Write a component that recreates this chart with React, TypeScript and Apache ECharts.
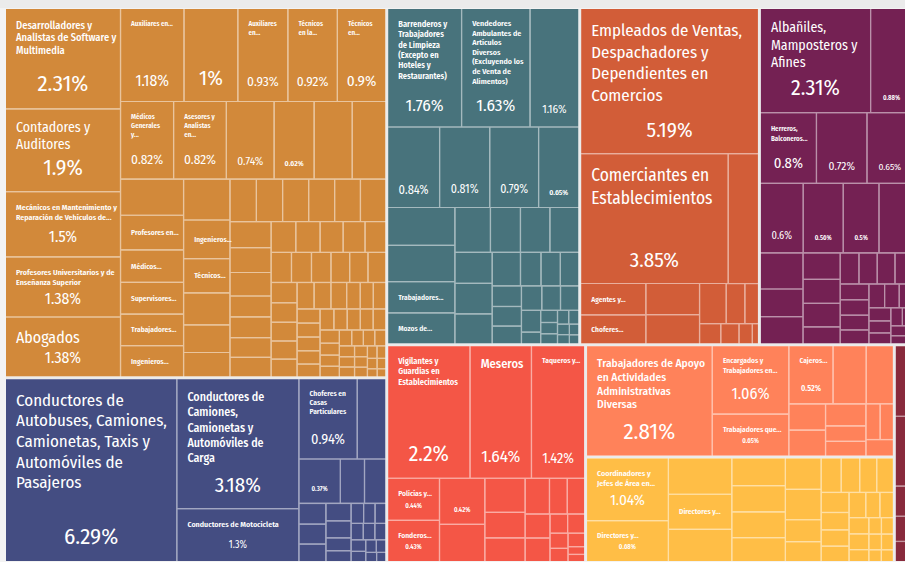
import React, { useEffect, useRef } from "react";
import * as echarts from "echarts";

const FONT = "'Fira Sans Condensed', 'Roboto Condensed', 'DejaVu Sans Condensed', sans-serif";

// ---------- DATA (share of employed population, %) ----------
const groupNames = [
  "Profesionistas y Técnicos",
  "Operadores de Maquinaria Industrial, Ensambladores, Choferes y Conductores de Transporte",
  "Trabajadores en Actividades Elementales y de Apoyo",
  "Comerciantes, Empleados en Ventas y Agentes de Ventas",
  "Trabajadores Artesanales, en la Construcción y Otros Oficios",
  "Trabajadores en Servicios Personales y de Vigilancia",
  "Trabajadores Auxiliares en Actividades Administrativas",
  "Funcionarios, Directores y Jefes",
  "Trabajadores en Actividades Agrícolas, Ganaderas, Forestales, Caza y Pesca",
];

const groupColors = ["#D2893A", "#444D82", "#48737C", "#D25D38", "#742153", "#F45646", "#FF825A", "#FFBE46", "#882A3C"];

// null = occupation whose name is not printed in the chart
const profNames: (string | null)[] = [
  "Desarrolladores y\nAnalistas de Software y\nMultimedia",
  "Contadores y\nAuditores",
  "Mecánicos en Mantenimiento y\nReparación de Vehículos de...",
  "Profesores Universitarios y de\nEnseñanza Superior",
  "Abogados",
  "Auxiliares en...",
  null,
  "Auxiliares\nen...",
  "Técnicos\nen la...",
  "Técnicos\nen...",
  "Médicos\nGenerales\ny...",
  "Asesores y\nAnalistas\nen...",
  null, null, null, null, null,
  "Profesores en...",
  "Médicos...",
  "Supervisores...",
  "Trabajadores...",
  "Ingenieros...",
  null,
  "Ingenieros...",
  "Técnicos...",
];
const profValues = [
  2.31, 1.9, 1.5, 1.383, 1.377, 1.18, 1.0, 0.93, 0.92, 0.9, 0.822, 0.818, 0.74, 0.62, 0.59, 0.52,
  0.455, 0.435, 0.41, 0.4, 0.397, 0.393,
  0.379, 0.358, 0.317, 0.297, 0.256, 0.226, 0.224,
  0.222, 0.221, 0.22, 0.219, 0.215, 0.214,
  0.205, 0.193, 0.172, 0.17, 0.163, 0.16, 0.152,
  0.15, 0.142, 0.135, 0.128, 0.122, 0.12,
  0.117, 0.112, 0.11, 0.107, 0.105, 0.101,
  0.097, 0.094, 0.092, 0.09, 0.089,
  0.083, 0.072, 0.069, 0.066, 0.065, 0.064,
  0.063, 0.061, 0.059, 0.058, 0.056,
  0.055, 0.054, 0.053, 0.051, 0.046,
  0.043, 0.041, 0.039, 0.037,
  0.036, 0.035, 0.033, 0.031,
  0.03, 0.028, 0.027, 0.025, 0.024, 0.022, 0.02, 0.018, 0.016, 0.014,
];

const condNames: (string | null)[] = [
  "Conductores de\nAutobuses, Camiones,\nCamionetas, Taxis y\nAutomóviles de\nPasajeros",
  "Conductores de\nCamiones,\nCamionetas y\nAutomóviles de\nCarga",
  "Conductores de Motocicleta",
  "Choferes en\nCasas\nParticulares",
];
const condValues = [
  6.29, 3.18, 1.3, 0.94, 0.46, 0.37, 0.215, 0.19, 0.112, 0.108, 0.095, 0.088, 0.086, 0.065, 0.055,
  0.05, 0.046, 0.043, 0.04, 0.038, 0.036, 0.034, 0.03, 0.027, 0.024, 0.02, 0.017,
];

const elemNames: (string | null)[] = [
  "Barrenderos y\nTrabajadores\nde Limpieza\n(Excepto en\nHoteles y\nRestaurantes)",
  "Vendedores\nAmbulantes de\nArtículos\nDiversos\n(Excluyendo los\nde Venta de\nAlimentos)",
  null, null, null, null, null, null, null,
  "Trabajadores...",
  "Mozos de...",
];
const elemValues = [
  1.76, 1.63, 1.16, 0.84, 0.81, 0.79, 0.65, 0.51, 0.49, 0.422, 0.418,
  0.32, 0.27, 0.265, 0.26, 0.232, 0.229, 0.224, 0.19, 0.138, 0.13, 0.124, 0.121, 0.115, 0.104,
  0.1, 0.092, 0.09, 0.084, 0.045, 0.041, 0.038, 0.034, 0.031, 0.028, 0.025, 0.022, 0.02, 0.017,
];

const ventasNames: (string | null)[] = [
  "Empleados de Ventas,\nDespachadores y\nDependientes en\nComercios",
  "Comerciantes en\nEstablecimientos",
  null,
  "Agentes y...",
  "Choferes...",
];
const ventasValues = [5.19, 3.85, 0.79, 0.41, 0.38, 0.335, 0.315, 0.215, 0.15, 0.11, 0.086, 0.074, 0.054, 0.025];

const artesNames: (string | null)[] = ["Albañiles,\nMamposteros y\nAfines", null, "Herreros,\nBalconeros..."];
const artesValues = [
  2.31, 0.88, 0.8, 0.72, 0.65, 0.6, 0.56, 0.5, 0.47, 0.31, 0.237, 0.234, 0.198, 0.18, 0.175, 0.127,
  0.117, 0.114, 0.111, 0.11, 0.091, 0.089, 0.085, 0.08, 0.075, 0.07, 0.064, 0.058, 0.053, 0.048,
  0.042, 0.037, 0.032, 0.026, 0.021,
];

const servNames: (string | null)[] = [
  "Vigilantes y\nGuardias en\nEstablecimientos",
  "Meseros",
  "Taqueros y...",
  "Policías y...",
  "Fonderos...",
];
const servValues = [
  2.2, 1.64, 1.42, 0.44, 0.43, 0.42, 0.34, 0.277, 0.207, 0.192, 0.175, 0.128, 0.125, 0.12, 0.118,
  0.068, 0.066, 0.055, 0.048, 0.045, 0.026, 0.024,
];

const auxNames: (string | null)[] = [
  "Trabajadores de Apoyo\nen Actividades\nAdministrativas\nDiversas",
  "Encargados y\nTrabajadores en...",
  "Trabajadores que...",
  "Cajeros...",
];
const auxValues = [2.81, 1.06, 0.65, 0.52, 0.39, 0.32, 0.195, 0.193, 0.181, 0.126, 0.12, 0.103, 0.096, 0.092];

const jefesNames: (string | null)[] = ["Coordinadores y\nJefes de Área en...", "Directores y...", null, "Directores y..."];
const jefesValues = [
  1.04, 0.68, 0.466, 0.452, 0.412, 0.3, 0.285, 0.28, 0.26, 0.228, 0.22, 0.159, 0.144, 0.14, 0.129,
  0.119, 0.117, 0.113, 0.098, 0.092, 0.087, 0.085, 0.072, 0.069, 0.065, 0.063, 0.048, 0.042, 0.04,
  0.04, 0.038, 0.03, 0.029,
];

const agroNames: (string | null)[] = [];
const agroValues = [0.27, 0.267, 0.115, 0.096, 0.077];

const leafNames = [profNames, condNames, elemNames, ventasNames, artesNames, servNames, auxNames, jefesNames, agroNames];
const leafValues = [profValues, condValues, elemValues, ventasValues, artesValues, servValues, auxValues, jefesValues, agroValues];

// ---------- LABEL STYLES (font sizes per printed label) ----------
type Spec = { ns?: number; nlh?: number; vs?: number; center?: boolean };
const labelSpecs: Record<string, Spec> = {
  "0-0": { ns: 10.5, nlh: 12.5, vs: 24 },
  "0-1": { ns: 14, nlh: 15.7, vs: 23 },
  "0-2": { ns: 8, nlh: 10, vs: 16.5 },
  "0-3": { ns: 8, nlh: 10, vs: 16.5 },
  "0-4": { ns: 16, nlh: 19, vs: 16.5 },
  "0-5": { ns: 7, nlh: 9, vs: 16.5 },
  "0-6": { vs: 22 },
  "0-7": { ns: 7, nlh: 9, vs: 14 },
  "0-8": { ns: 7, nlh: 9, vs: 14 },
  "0-9": { ns: 7, nlh: 9, vs: 16 },
  "0-10": { ns: 7, nlh: 9, vs: 14 },
  "0-11": { ns: 7, nlh: 9, vs: 14 },
  "0-12": { vs: 12 },
  "0-13": { vs: 8 },
  "0-17": { ns: 7.5, center: true },
  "0-18": { ns: 7.5, center: true },
  "0-19": { ns: 7.5, center: true },
  "0-20": { ns: 7.5, center: true },
  "0-21": { ns: 7.5, center: true },
  "0-23": { ns: 7.5, center: true },
  "0-24": { ns: 7.5, center: true },
  "1-0": { ns: 17, nlh: 20.7, vs: 24 },
  "1-1": { ns: 12, nlh: 15.3, vs: 22 },
  "1-2": { ns: 8, nlh: 10, vs: 10.5 },
  "1-3": { ns: 7.5, nlh: 9, vs: 15 },
  "1-5": { vs: 7 },
  "2-0": { ns: 8.5, nlh: 10.3, vs: 18 },
  "2-1": { ns: 8, nlh: 9.4, vs: 18 },
  "2-2": { vs: 12 },
  "2-3": { vs: 13 },
  "2-4": { vs: 12.5 },
  "2-5": { vs: 12.5 },
  "2-6": { vs: 8 },
  "2-9": { ns: 7.5, center: true },
  "2-10": { ns: 7.5, center: true },
  "3-0": { ns: 17, nlh: 21.7, vs: 22 },
  "3-1": { ns: 17.5, nlh: 22.7, vs: 22 },
  "3-3": { ns: 7.5, center: true },
  "3-4": { ns: 7.5, center: true },
  "4-0": { ns: 14, nlh: 17.5, vs: 23 },
  "4-1": { vs: 7 },
  "4-2": { ns: 7, nlh: 10.5, vs: 15.5 },
  "4-3": { vs: 12 },
  "4-4": { vs: 10 },
  "4-5": { vs: 11 },
  "4-6": { vs: 7 },
  "4-7": { vs: 7 },
  "5-0": { ns: 8.5, nlh: 10, vs: 23 },
  "5-1": { ns: 12.5, nlh: 15, vs: 18 },
  "5-2": { ns: 7.5, nlh: 9, vs: 15 },
  "5-3": { ns: 7.5, nlh: 9, vs: 7 },
  "5-4": { ns: 7.5, nlh: 9, vs: 7 },
  "5-5": { vs: 7 },
  "6-0": { ns: 11.5, nlh: 13.5, vs: 24 },
  "6-1": { ns: 7.5, nlh: 9.3, vs: 17 },
  "6-2": { ns: 7.5, nlh: 9, vs: 7 },
  "6-3": { ns: 7.5, nlh: 9, vs: 8.5 },
  "7-0": { ns: 8, nlh: 10.3, vs: 16 },
  "7-1": { ns: 7.5, nlh: 9, vs: 7 },
  "7-3": { ns: 7.5, center: true },
};

const fmt = (v: number) => `${parseFloat(v.toFixed(2))}%`;

function tint(hex: string, t: number) {
  const n = parseInt(hex.slice(1), 16);
  const r = (n >> 16) & 255, g = (n >> 8) & 255, b = n & 255;
  const m = (c: number) => Math.round(c + (255 - c) * t);
  return `rgb(${m(r)},${m(g)},${m(b)})`;
}

// small width correction so the text takes about the same room as in the original
function fontScales() {
  try {
    const ctx = document.createElement("canvas").getContext("2d");
    if (!ctx) return { n: 1, v: 1 };
    ctx.font = `100px ${FONT}`;
    const wn = ctx.measureText("Empleados de Ventas,").width;
    const wv = ctx.measureText("2.31%").width;
    const clamp = (x: number, a: number, b: number) => Math.min(b, Math.max(a, x));
    return { n: clamp(888 / wn, 0.85, 1.1), v: clamp(212 / wv, 0.85, 1.1) };
  } catch (e) {
    return { n: 1, v: 1 };
  }
}

const weightFor = (fs: number) => (fs < 9 ? 600 : fs < 14 ? 500 : 400);

type Size = { w: number; h: number } | null;

function buildLabel(name: string, value: number, spec: Spec | undefined, size: Size, sc: { n: number; v: number }) {
  if (!spec || !size) return { show: false };
  const h = size.h;
  const ns = spec.ns ?? 0;
  const lines = ns ? name.split("\n") : [];
  const nfs = (ns || 10) * sc.n;
  const nlh = Math.max(spec.nlh ?? ns * 1.2, nfs * 1.2);
  const vs = spec.vs ?? 0;
  const vfs = (vs || 10) * sc.v;
  const vlh = vs * 1.2;
  const top = spec.center ? Math.max(1, (h - lines.length * nlh) / 2) : 10;
  const out: string[] = ["{t| }"];
  lines.forEach((l) => out.push(`{n|${l}}`));
  let mid = 1;
  if (vs) {
    mid = Math.max(1, h - 20 - lines.length * nlh - vlh);
    out.push("{m| }");
    out.push(`{v|${fmt(value)}}`);
  }
  const text = out.join("\n");
  return {
    show: true,
    position: "insideTopLeft",
    distance: 0,
    padding: [0, 10, 0, 10],
    overflow: "none",
    formatter: () => text,
    rich: {
      t: { fontSize: 1, lineHeight: top },
      m: { fontSize: 1, lineHeight: mid },
      n: { fontFamily: FONT, fontSize: nfs, lineHeight: nlh || 12, color: "#ffffff", fontWeight: weightFor(ns || 10) },
      v: { fontFamily: FONT, fontSize: vfs, lineHeight: vlh || 12, color: "#ffffff", align: "center", fontWeight: vs < 9 ? 600 : 400 },
    },
  };
}

function buildOption(sizes: Size[][] | null, sc: { n: number; v: number }) {
  const data = groupNames.map((gName, g) => {
    const color = groupColors[g];
    return {
      name: gName,
      itemStyle: { color, borderColor: tint(color, 0.5) },
      children: leafValues[g].map((v, i) => {
        const name = leafNames[g][i] ?? "Otras ocupaciones";
        return {
          name,
          value: v,
          itemStyle: { color },
          label: buildLabel(name, v, labelSpecs[`${g}-${i}`], sizes && sizes[g] ? sizes[g][i] : null, sc),
        };
      }),
    };
  });
  return {
    animation: false,
    tooltip: { show: false },
    series: [
      {
        type: "treemap",
        left: 6,
        top: 9,
        width: 906,
        height: 552,
        roam: false,
        nodeClick: false,
        breadcrumb: { show: false },
        visibleMin: 0,
        sort: "desc",
        squareRatio: 0.5 * (1 + Math.sqrt(5)),
        label: { show: false },
        upperLabel: { show: false },
        emphasis: { disabled: true },
        itemStyle: { borderWidth: 0, gapWidth: 0 },
        levels: [
          { itemStyle: { borderWidth: 0, gapWidth: 3, borderColor: "#ebebeb" } },
          { itemStyle: { borderWidth: 0, gapWidth: 1.2 } },
          { itemStyle: { borderWidth: 0, gapWidth: 0 } },
        ],
        data,
      },
    ],
  };
}

function readSizes(chart: any): Size[][] | null {
  try {
    const model = chart.getModel ? chart.getModel() : chart._model;
    const tree = model.getSeriesByIndex(0).getData().tree;
    return tree.root.children.map((gNode: any) =>
      gNode.children.map((n: any) => {
        const l = n.getLayout();
        return l ? { w: l.width, h: l.height } : null;
      })
    );
  } catch (e) {
    return null;
  }
}

export default function App() {
  const ref = useRef<HTMLDivElement>(null);
  useEffect(() => {
    const el = ref.current;
    if (!el) return;
    const sc = fontScales();
    const chart = echarts.init(el, undefined, { renderer: "svg" });
    chart.setOption(buildOption(null, sc) as any);
    const sizes = readSizes(chart);
    if (sizes) chart.setOption(buildOption(sizes, sc) as any, true);
    return () => chart.dispose();
  }, []);
  return (
    <div style={{ position: "fixed", left: 0, top: 0, width: 905, height: 562, overflow: "hidden", background: "#f3f3f3" }}>
      <div style={{ position: "absolute", left: 0, top: 0, width: 905, height: 8, background: "#ebebeb" }} />
      <div ref={ref} style={{ position: "absolute", left: 0, top: 0, width: 920, height: 562 }} />
    </div>
  );
}
